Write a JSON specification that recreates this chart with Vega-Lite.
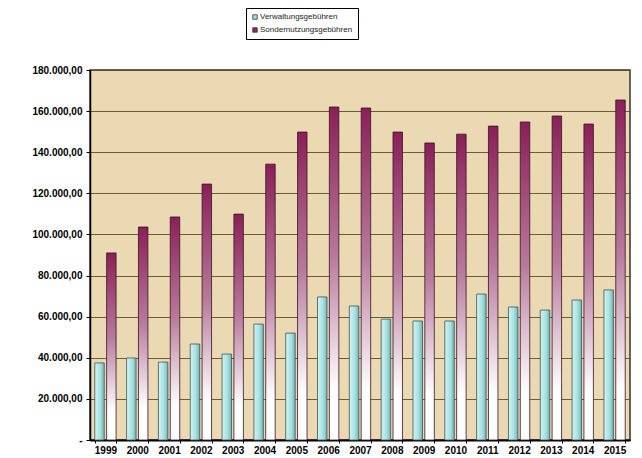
{
  "$schema": "https://vega.github.io/schema/vega-lite/v6.json",
  "width": 540,
  "height": 370,
  "autosize": {"type": "none"},
  "padding": {"left": 90, "top": 70, "right": 12, "bottom": 18},
  "background": "white",
  "config": {
    "view": {"fill": "#ead9b2", "stroke": "#333333", "strokeWidth": 1.5},
    "font": "Liberation Sans"
  },
  "data": {
    "values": [
      {"year": "1999", "series": "Verwaltungsgebühren", "value": 37500},
      {"year": "2000", "series": "Verwaltungsgebühren", "value": 39900},
      {"year": "2001", "series": "Verwaltungsgebühren", "value": 37900},
      {"year": "2002", "series": "Verwaltungsgebühren", "value": 46700},
      {"year": "2003", "series": "Verwaltungsgebühren", "value": 41800},
      {"year": "2004", "series": "Verwaltungsgebühren", "value": 56400},
      {"year": "2005", "series": "Verwaltungsgebühren", "value": 52000},
      {"year": "2006", "series": "Verwaltungsgebühren", "value": 69600},
      {"year": "2007", "series": "Verwaltungsgebühren", "value": 65200},
      {"year": "2008", "series": "Verwaltungsgebühren", "value": 58800},
      {"year": "2009", "series": "Verwaltungsgebühren", "value": 57900},
      {"year": "2010", "series": "Verwaltungsgebühren", "value": 57900},
      {"year": "2011", "series": "Verwaltungsgebühren", "value": 71000},
      {"year": "2012", "series": "Verwaltungsgebühren", "value": 64700},
      {"year": "2013", "series": "Verwaltungsgebühren", "value": 63200},
      {"year": "2014", "series": "Verwaltungsgebühren", "value": 68100},
      {"year": "2015", "series": "Verwaltungsgebühren", "value": 73000},
      {"year": "1999", "series": "Sondernutzungsgebühren", "value": 91000},
      {"year": "2000", "series": "Sondernutzungsgebühren", "value": 103600},
      {"year": "2001", "series": "Sondernutzungsgebühren", "value": 108500},
      {"year": "2002", "series": "Sondernutzungsgebühren", "value": 124500},
      {"year": "2003", "series": "Sondernutzungsgebühren", "value": 109900},
      {"year": "2004", "series": "Sondernutzungsgebühren", "value": 134200},
      {"year": "2005", "series": "Sondernutzungsgebühren", "value": 149800},
      {"year": "2006", "series": "Sondernutzungsgebühren", "value": 162000},
      {"year": "2007", "series": "Sondernutzungsgebühren", "value": 161500},
      {"year": "2008", "series": "Sondernutzungsgebühren", "value": 149800},
      {"year": "2009", "series": "Sondernutzungsgebühren", "value": 144500},
      {"year": "2010", "series": "Sondernutzungsgebühren", "value": 148800},
      {"year": "2011", "series": "Sondernutzungsgebühren", "value": 152700},
      {"year": "2012", "series": "Sondernutzungsgebühren", "value": 154700},
      {"year": "2013", "series": "Sondernutzungsgebühren", "value": 157600},
      {"year": "2014", "series": "Sondernutzungsgebühren", "value": 153700},
      {"year": "2015", "series": "Sondernutzungsgebühren", "value": 165400}
    ]
  },
  "encoding": {
    "x": {
      "field": "year", "type": "nominal",
      "scale": {"paddingInner": 0.33, "paddingOuter": 0.15},
      "axis": {
        "title": null, "labelAngle": 0, "labelFontSize": 10, "labelFontWeight": "bold",
        "labelColor": "#000000", "domainColor": "#000000", "domainWidth": 2,
        "tickColor": "#000000", "tickSize": 3, "labelPadding": 2, "tickBand": "extent"
      }
    },
    "xOffset": {
      "field": "series", "type": "nominal",
      "scale": {"domain": ["Verwaltungsgebühren", "Sondernutzungsgebühren"], "paddingInner": 0.2}
    },
    "y": {
      "field": "value", "type": "quantitative",
      "scale": {"domain": [0, 180000], "nice": false},
      "axis": {
        "title": null, "values": [0, 20000, 40000, 60000, 80000, 100000, 120000, 140000, 160000, 180000],
        "labelOverlap": false, "labelFlush": false,
        "labelExpr": "datum.value == 0 ? '-' : replace(replace(replace(format(datum.value, ',.2f'), ',', '#'), '.', ','), '#', '.')",
        "labelFontSize": 10, "labelFontWeight": "bold", "labelColor": "#000000",
        "domainColor": "#000000", "domainWidth": 1.5, "tickColor": "#000000", "tickSize": 4, "labelPadding": 4,
        "gridColor": "#5e4f28", "gridWidth": 1.2, "gridOpacity": 0.9
      }
    }
  },
  "layer": [
    {
      "transform": [{"filter": "datum.series == 'Verwaltungsgebühren'"}],
      "mark": {
        "type": "bar",
        "fill": {"gradient": "linear", "x1": 0, "y1": 0, "x2": 1, "y2": 0,
          "stops": [{"offset": 0, "color": "#d2f4f4"}, {"offset": 0.6, "color": "#a6dfe0"}, {"offset": 1, "color": "#6fb3b8"}]},
        "stroke": "#3d5555", "strokeWidth": 0.8
      },
      "encoding": {
        "color": {
          "field": "series", "type": "nominal",
          "scale": {"domain": ["Verwaltungsgebühren", "Sondernutzungsgebühren"], "range": ["#a6dfe0", "#8e2a62"]},
          "legend": {
            "title": null, "orient": "none", "legendX": 156, "legendY": -62,
            "symbolType": "square", "symbolSize": 20, "symbolStrokeColor": "#333333", "symbolStrokeWidth": 0.8,
            "labelFontSize": 8, "labelColor": "#222222", "rowPadding": 5, "labelOffset": 1,
            "strokeColor": "#000000", "padding": 5, "fillColor": "#ffffff"
          }
        }
      }
    },
    {
      "transform": [{"filter": "datum.series == 'Sondernutzungsgebühren'"}],
      "mark": {
        "type": "bar",
        "fill": {"gradient": "linear", "x1": 0, "y1": 0, "x2": 0, "y2": 1,
          "stops": [{"offset": 0, "color": "#8a1f58"}, {"offset": 0.45, "color": "#b87a9c"}, {"offset": 0.85, "color": "#ffffff"}, {"offset": 1, "color": "#ffffff"}]},
        "stroke": "#3a1028", "strokeWidth": 0.8
      }
    }
  ]
}
